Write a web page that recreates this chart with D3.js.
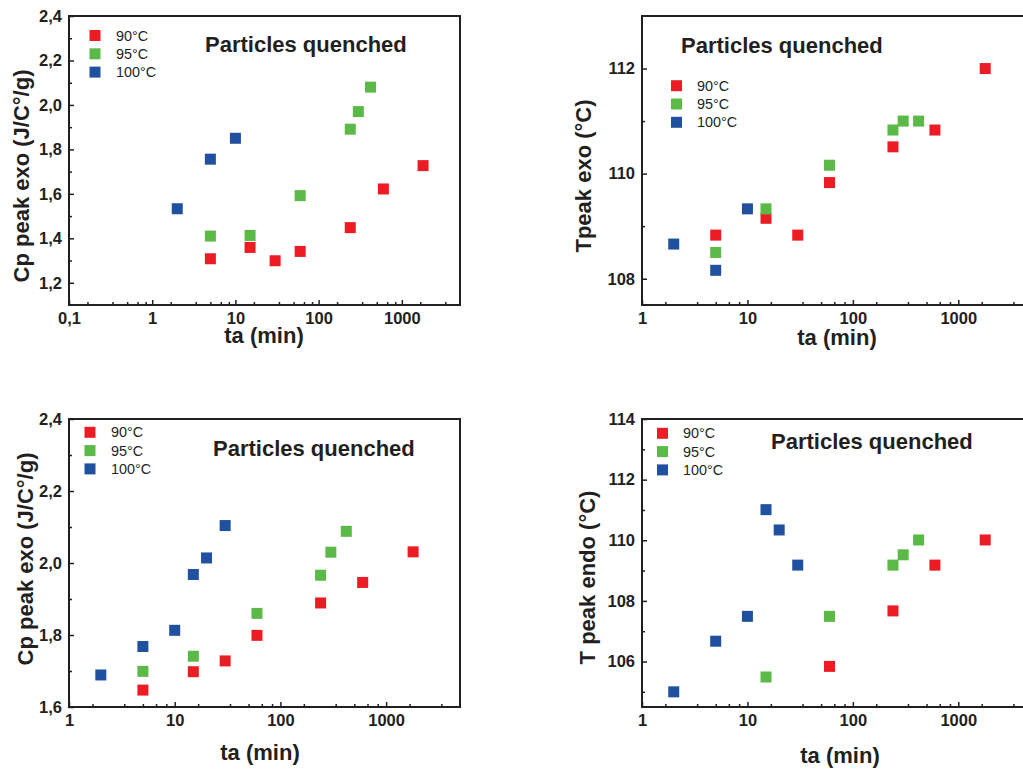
<!DOCTYPE html>
<html><head><meta charset="utf-8">
<script src="https://cdn.jsdelivr.net/npm/d3@7"></script>
<style>
body{margin:0;background:#fff;}
svg{display:block;font-family:Arial,"Liberation Sans",sans-serif;}
</style></head>
<body>
<svg id="chart" width="1023" height="769"></svg>
<script>
// ---------- data ----------
const seriesNames = ["90°C", "95°C", "100°C"];
const seriesColors = ["#ec1c24", "#5bb947", "#2050a0"];

// Panel 1: Cp peak exo
const p1TaRed = [5, 15, 30, 60, 240, 600, 1800];
const p1Red = [1.308, 1.359, 1.299, 1.341, 1.448, 1.622, 1.727];
const p1TaGreen = [5, 15, 60, 240, 300, 420];
const p1Green = [1.410, 1.413, 1.592, 1.891, 1.970, 2.080];
const p1TaBlue = [2, 5, 10];
const p1Blue = [1.533, 1.756, 1.850];

// Panel 2: Tpeak exo
const p2TaRed = [5, 15, 30, 60, 240, 600, 1800];
const p2Red = [108.83, 109.15, 108.83, 109.83, 110.51, 110.83, 112.0];
const p2TaGreen = [5, 15, 60, 240, 300, 420];
const p2Green = [108.50, 109.33, 110.16, 110.83, 111.0, 111.0];
const p2TaBlue = [2, 5, 10];
const p2Blue = [108.66, 108.16, 109.33];

// Panel 3: Cp peak exo
const p3TaRed = [5, 15, 30, 60, 240, 600, 1800];
const p3Red = [1.647, 1.698, 1.728, 1.799, 1.889, 1.946, 2.031];
const p3TaGreen = [5, 15, 60, 240, 300, 420];
const p3Green = [1.699, 1.741, 1.860, 1.966, 2.030, 2.088];
const p3TaBlue = [2, 5, 10, 15, 20, 30];
const p3Blue = [1.689, 1.768, 1.813, 1.968, 2.014, 2.104];

// Panel 4: T peak endo
const p4TaRed = [60, 240, 600, 1800];
const p4Red = [105.84, 107.67, 109.18, 110.01];
const p4TaGreen = [15, 60, 240, 300, 420];
const p4Green = [105.49, 107.49, 109.18, 109.52, 110.01];
const p4TaBlue = [2, 5, 10, 15, 20, 30];
const p4Blue = [105.0, 106.67, 107.49, 111.01, 110.34, 109.18];

// tick values
const p1YTicks = [1.2, 1.4, 1.6, 1.8, 2.0, 2.2, 2.4];
const p1YMinor = [1.3, 1.5, 1.7, 1.9, 2.1, 2.3];
const p2YTicks = [108, 110, 112];
const p2YMinor = [109, 111];
const p3YTicks = [1.6, 1.8, 2.0, 2.2, 2.4];
const p3YMinor = [1.7, 1.9, 2.1, 2.3];
const p4YTicks = [106, 108, 110, 112, 114];
const p4YMinor = [105, 107, 109, 111, 113];
const xTicksA = [0.1, 1, 10, 100, 1000];
const xTicksB = [1, 10, 100, 1000];

const titleText = "Particles quenched";
const xLabel = "ta (min)";
const yLabels = ["Cp peak exo (J/C°/g)", "Tpeak exo (°C)", "Cp peak exo (J/C°/g)", "T peak endo (°C)"];

// ---------- layout ----------
const panels = [
  {box:[69,460,16,305], xd:[0.1,5000], yd:[1.1,2.4], yt:p1YTicks, ym:p1YMinor, xt:xTicksA, dec:1,
   xs:[p1TaRed,p1TaGreen,p1TaBlue], ys:[p1Red,p1Green,p1Blue], yl:yLabels[0],
   title:[205,52], leg:[95,35.5,116], xlab:[264,342.5], ylab:[28.5,176]},
  {box:[642,1032,16,305], xd:[1,5000], yd:[107.5,113], yt:p2YTicks, ym:p2YMinor, xt:xTicksB, dec:0,
   xs:[p2TaRed,p2TaGreen,p2TaBlue], ys:[p2Red,p2Green,p2Blue], yl:yLabels[1],
   title:[681,52.5], leg:[676.5,85.7,697], xlab:[837,345], ylab:[591,176]},
  {box:[69,460,419,707], xd:[1,5000], yd:[1.6,2.4], yt:p3YTicks, ym:p3YMinor, xt:xTicksB, dec:1,
   xs:[p3TaRed,p3TaGreen,p3TaBlue], ys:[p3Red,p3Green,p3Blue], yl:yLabels[2],
   title:[213,455.5], leg:[90,432.3,111], xlab:[260,760], ylab:[33,559]},
  {box:[642,1032,419,707], xd:[1,5000], yd:[104.5,114], yt:p4YTicks, ym:p4YMinor, xt:xTicksB, dec:0,
   xs:[p4TaRed,p4TaGreen,p4TaBlue], ys:[p4Red,p4Green,p4Blue], yl:yLabels[3],
   title:[771,448.5], leg:[662.5,433.3,683], xlab:[840,763], ylab:[594.5,577.5]}
];

const svg = d3.select("#chart");
const ink = "#231f20";
const fmtComma = (v, dec) => d3.format("." + dec + "f")(v).replace(".", ",");

function minorLog(domain) {
  const out = [];
  for (let d = Math.floor(Math.log10(domain[0])); d <= Math.ceil(Math.log10(domain[1])); d++) {
    for (let k = 1; k <= 5; k++) {
      const v = Math.pow(10, d) * 10 * k / 6;
      if (v > domain[0] && v < domain[1]) out.push(v);
    }
  }
  return out;
}

panels.forEach(p => {
  const [l, r, t, b] = p.box;
  const x = d3.scaleLog().domain(p.xd).range([l, r]);
  const y = d3.scaleLinear().domain(p.yd).range([b, t]);
  const g = svg.append("g");

  // points
  p.xs.forEach((xsArr, si) => {
    const data = xsArr.map((v, i) => [v, p.ys[si][i]]);
    const s = 11;
    g.append("g").selectAll("rect").data(data).join("rect")
      .attr("x", d => x(d[0]) - s/2).attr("y", d => y(d[1]) - s/2)
      .attr("width", s).attr("height", s)
      .attr("fill", seriesColors[si]);
  });

  // frame
  g.append("rect").attr("x", l).attr("y", t).attr("width", r - l).attr("height", b - t)
    .attr("fill", "none").attr("stroke", ink).attr("stroke-width", 2);

  // bottom axis (ticks inward)
  const xAxis = d3.axisBottom(x).tickValues(p.xt).tickSize(-5).tickPadding(7)
    .tickFormat(v => v < 1 ? fmtComma(v, 1) : d3.format("d")(v));
  const gx = g.append("g").attr("transform", `translate(0,${b})`).call(xAxis);
  gx.select(".domain").remove();
  gx.selectAll("line").attr("stroke", ink).attr("stroke-width", 1.5);
  gx.selectAll("text").attr("font-size", 16.5).attr("font-weight", "bold").attr("fill", ink).attr("dy", "0.71em");
  const gxm = g.append("g").attr("transform", `translate(0,${b})`)
    .call(d3.axisBottom(x).tickValues(minorLog(p.xd)).tickSize(-3).tickFormat(""));
  gxm.select(".domain").remove();
  gxm.selectAll("line").attr("stroke", ink).attr("stroke-width", 1.5);

  // left axis
  const yAxis = d3.axisLeft(y).tickValues(p.yt).tickSize(-5).tickPadding(7)
    .tickFormat(v => p.dec ? fmtComma(v, p.dec) : d3.format("d")(v));
  const gy = g.append("g").attr("transform", `translate(${l},0)`).call(yAxis);
  gy.select(".domain").remove();
  gy.selectAll("line").attr("stroke", ink).attr("stroke-width", 1.5);
  gy.selectAll("text").attr("font-size", 16.5).attr("font-weight", "bold").attr("fill", ink);
  const gym = g.append("g").attr("transform", `translate(${l},0)`)
    .call(d3.axisLeft(y).tickValues(p.ym).tickSize(-3).tickFormat(""));
  gym.select(".domain").remove();
  gym.selectAll("line").attr("stroke", ink).attr("stroke-width", 1.5);

  // title
  g.append("text").attr("x", p.title[0]).attr("y", p.title[1]).text(titleText)
    .attr("font-size", 22).attr("font-weight", "bold").attr("fill", ink);

  // legend
  seriesNames.forEach((name, i) => {
    const cy = p.leg[1] + i * 18.3;
    g.append("rect").attr("x", p.leg[0] - 5.5).attr("y", cy - 5.5).attr("width", 11).attr("height", 11)
      .attr("fill", seriesColors[i]);
    g.append("text").attr("x", p.leg[2]).attr("y", cy).attr("dy", "0.36em").text(name)
      .attr("font-size", 14.4).attr("fill", ink);
  });

  // axis labels
  g.append("text").attr("x", p.xlab[0]).attr("y", p.xlab[1]).attr("text-anchor", "middle")
    .text(xLabel).attr("font-size", 22).attr("font-weight", "bold").attr("fill", ink);
  g.append("text").attr("transform", `translate(${p.ylab[0]},${p.ylab[1]}) rotate(-90)`)
    .attr("text-anchor", "middle").text(p.yl)
    .attr("font-size", 22).attr("font-weight", "bold").attr("fill", ink);
});
</script>
</body></html>
